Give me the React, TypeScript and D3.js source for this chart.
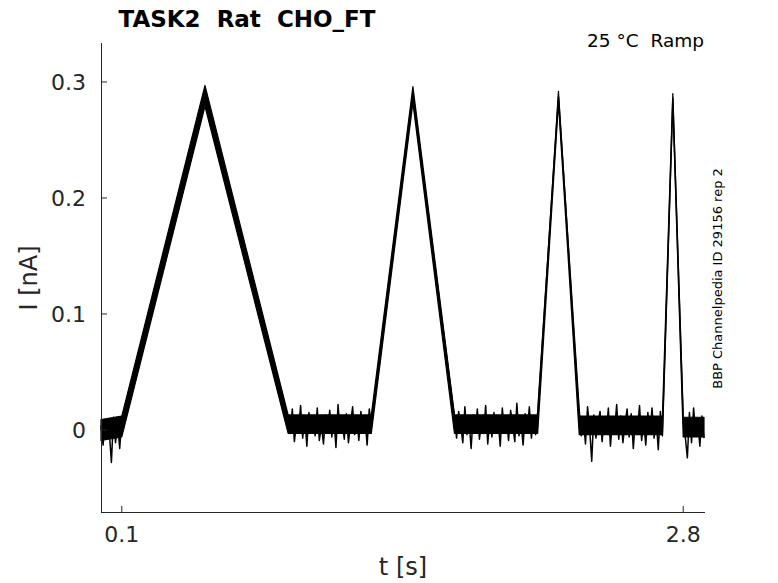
import { useMemo } from "react";
import * as d3 from "d3";

// sweep breakpoints (s) and envelope of the overlaid sweeps (nA)
const bandT = [0, 0.1, 0.5, 0.9, 1.3, 1.5, 1.7, 2.1, 2.2, 2.3, 2.7, 2.75, 2.8, 2.9];
const bandHi = [0.009, 0.012, 0.297, 0.013, 0.013, 0.296, 0.013, 0.013, 0.292, 0.012, 0.012, 0.29, 0.011, 0.011];
const bandLo = [-0.009, -0.006, 0.279, -0.003, -0.003, 0.282, -0.003, -0.003, 0.282, -0.004, -0.004, 0.282, -0.006, -0.006];

// ramp peaks
const peakT = [0.5, 1.5, 2.2, 2.75];
const peakI = [0.288, 0.289, 0.287, 0.286];

// holding segments between ramps, noisy current in pA
const segStart = [0, 0.9, 1.7, 2.3, 2.8];
const segEnd = [0.1, 1.3, 2.1, 2.7, 2.9];
const segNoise = [
  [4, -13, 9, -6, -2, -28, 11, -11, 5, -16, 10],
  [9, -3, 18, -10, 6, 1, 21, -7, 11, -14, 15, 2, 8, -5, 19, -9, 4, -12, 13, 0, 17, -6, 10, -15, 22, -2, 7, -8, 14, -11, 5, 20, -4, 12, -9, 16, -1, 9, -13, 18, 6],
  [11, -7, 16, 3, -11, 20, -4, 9, -16, 13, 1, 18, -8, 6, -3, 21, -12, 10, -6, 15, 0, 8, -14, 19, -2, 12, -9, 17, 4, -10, 23, -5, 7, -13, 14, -1, 20, -7, 10, -4, 15],
  [17, -5, 9, -12, 20, 2, -27, 13, -7, 6, 16, -10, 11, -3, 19, -14, 8, 0, 22, -8, 12, -11, 5, 18, -6, 14, -16, 9, 1, 21, -9, 7, -13, 15, -2, 19, -7, 10, -17, 16, -5],
  [10, -6, -24, 15, -11, 19, -3, 8, -14, 12, -7],
];

const xTicks = [0.1, 2.8];
const yTicks = [0, 0.1, 0.2, 0.3];

const W = 778;
const H = 583;
const font = "'DejaVu Sans', sans-serif";
const ink = "#262626";

export default function App() {
  const x = d3.scaleLinear().domain([0, 2.9]).range([101, 704]);
  const y = d3.scaleLinear().domain([-0.0707, 0.3336]).range([512, 43]);

  const trace = useMemo(() => {
    const pts: [number, number][] = [];
    segNoise.forEach((vals, i) => {
      const ts = d3.range(vals.length).map(
        (k) => segStart[i] + ((segEnd[i] - segStart[i]) * k) / (vals.length - 1)
      );
      vals.forEach((v, k) => pts.push([ts[k], v / 1000]));
      if (i < peakT.length) pts.push([peakT[i], peakI[i]]);
    });
    return pts;
  }, []);

  const area = d3
    .area<number>()
    .x((t) => x(t))
    .y0((_, i) => y(bandLo[i]))
    .y1((_, i) => y(bandHi[i]));

  const line = d3
    .line<[number, number]>()
    .x((d) => x(d[0]))
    .y((d) => y(d[1]));

  return (
    <div style={{ position: "absolute", left: 0, top: 0 }}>
      <svg width={W} height={H} viewBox={`0 0 ${W} ${H}`} style={{ display: "block", background: "#fff" }}>
        <path d={area(bandT) ?? ""} fill="#000" stroke="#000" strokeWidth={1.2} strokeLinejoin="round" />
        <path d={line(trace) ?? ""} fill="none" stroke="#000" strokeWidth={1.5} strokeLinejoin="round" />

        {/* axes */}
        <line x1={101.5} x2={101.5} y1={43} y2={512.5} stroke={ink} strokeWidth={1} />
        <line x1={101} x2={705} y1={512.5} y2={512.5} stroke={ink} strokeWidth={1} />
        {yTicks.map((v) => (
          <g key={v}>
            <line x1={101} x2={107} y1={y(v)} y2={y(v)} stroke={ink} strokeWidth={1} />
            <text x={86} y={y(v) + 8} textAnchor="end" fontFamily={font} fontSize={22} fill={ink}>
              {v === 0 ? "0" : v.toFixed(1)}
            </text>
          </g>
        ))}
        {xTicks.map((v) => (
          <g key={v}>
            <line x1={x(v)} x2={x(v)} y1={512} y2={506} stroke={ink} strokeWidth={1} />
            <text x={x(v)} y={542} textAnchor="middle" fontFamily={font} fontSize={22} fill={ink}>
              {v.toFixed(1)}
            </text>
          </g>
        ))}

        {/* labels */}
        <text x={403} y={575} textAnchor="middle" fontFamily={font} fontSize={24} fill={ink}>
          t [s]
        </text>
        <text
          transform="translate(37,278) rotate(-90)"
          textAnchor="middle"
          fontFamily={font}
          fontSize={24}
          fill={ink}
        >
          I [nA]
        </text>
        <text
          x={247}
          y={26.5}
          textAnchor="middle"
          fontFamily={font}
          fontWeight="bold"
          fontSize={23}
          fill="#000"
          style={{ whiteSpace: "pre" }}
        >
          {"TASK2  Rat  CHO_FT"}
        </text>
        <text
          x={704}
          y={47}
          textAnchor="end"
          fontFamily={font}
          fontSize={18.5}
          fill="#000"
          style={{ whiteSpace: "pre" }}
        >
          {"25 °C  Ramp"}
        </text>
        <text
          transform="translate(721.5,278.5) rotate(-90)"
          textAnchor="middle"
          fontFamily={font}
          fontSize={13}
          fill="#000"
        >
          BBP Channelpedia ID 29156 rep 2
        </text>
      </svg>
    </div>
  );
}
